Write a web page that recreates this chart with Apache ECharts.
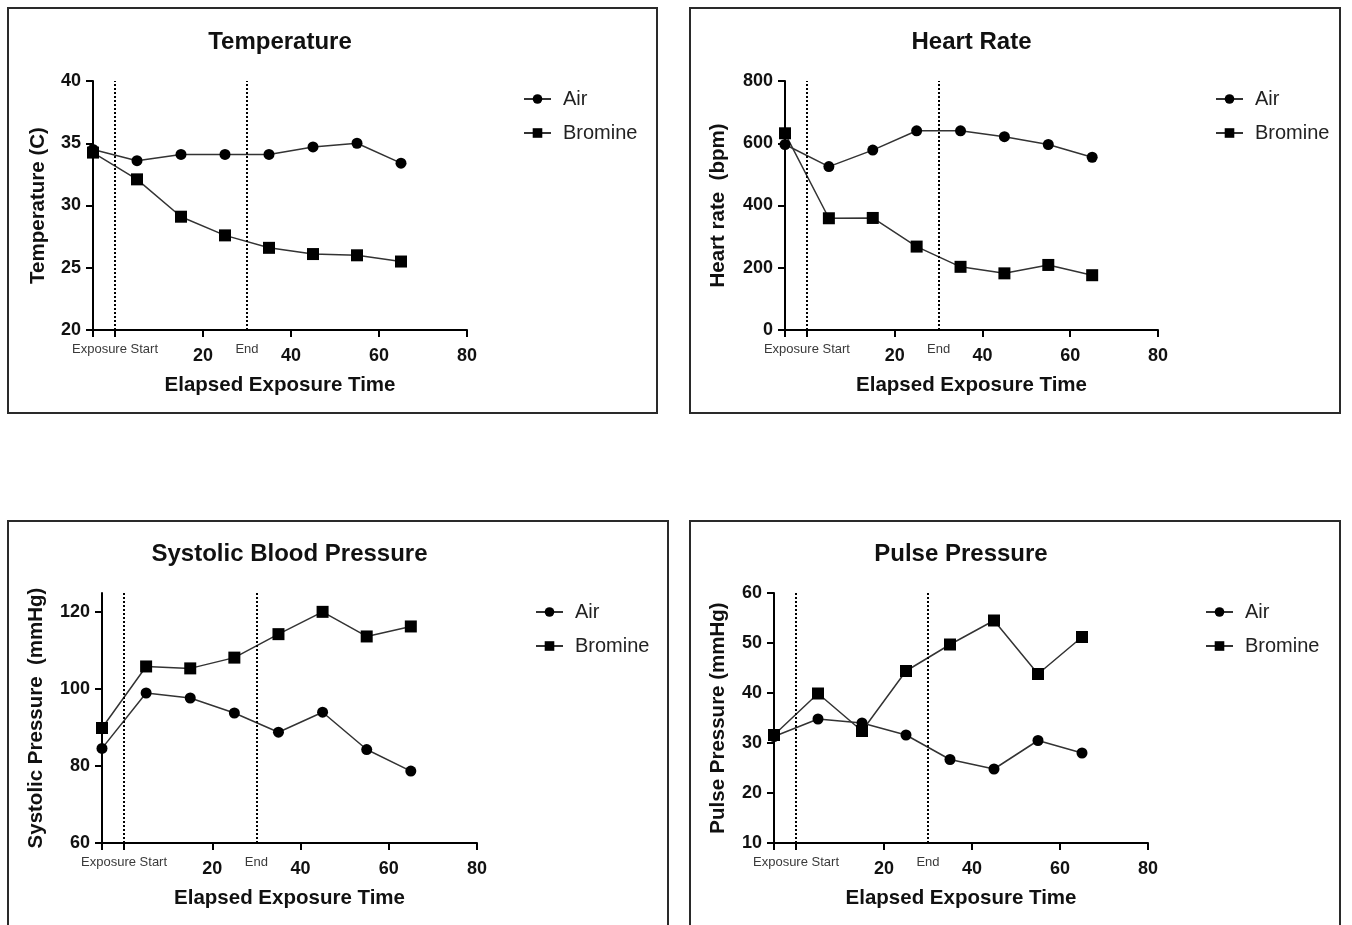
<!DOCTYPE html>
<html>
<head>
<meta charset="utf-8">
<script src="https://cdn.jsdelivr.net/npm/echarts@6/dist/echarts.min.js"></script>
<style>
html,body{margin:0;padding:0;background:#fff;}
#chart{width:1352px;height:925px;}
</style>
</head>
<body>
<div id="chart"></div>
<script>
// ---- data ----
const times = [-5, 5, 15, 25, 35, 45, 55, 65];
const seriesNames = ['Air', 'Bromine'];
const tempAir = [34.5, 33.6, 34.1, 34.1, 34.1, 34.7, 35.0, 33.4];
const tempBromine = [34.25, 32.1, 29.1, 27.6, 26.6, 26.1, 26.0, 25.5];
const hrAir = [596, 525, 578, 640, 640, 621, 596, 555];
const hrBromine = [632, 359, 360, 268, 203, 182, 209, 176];
const sysAir = [84.6, 99.0, 97.7, 93.8, 88.8, 94.0, 84.3, 78.7];
const sysBromine = [89.9, 105.9, 105.4, 108.2, 114.3, 120.1, 113.7, 116.3];
const ppAir = [31.3, 34.8, 34.0, 31.6, 26.7, 24.8, 30.5, 28.0];
const ppBromine = [31.6, 39.9, 32.4, 44.4, 49.7, 54.5, 43.8, 51.2];

const titles = ['Temperature', 'Heart Rate', 'Systolic Blood Pressure', 'Pulse Pressure'];
const yNames = ['Temperature (C)', 'Heart rate  (bpm)', 'Systolic Pressure  (mmHg)', 'Pulse Pressure (mmHg)'];
const xName = 'Elapsed Exposure Time';
const xTickValues = [-5, 0, 20, 40, 60, 80];
const xLabelValues = [0, 20, 30, 40, 60, 80];
const xLabelText = {0: 'Exposure Start', 30: 'End'};
const exposureMarks = [0, 30];
const yTicks = [
  [20, 25, 30, 35, 40],
  [0, 200, 400, 600, 800],
  [60, 80, 100, 120],
  [10, 20, 30, 40, 50, 60]
];
const yRanges = [[20, 40], [0, 800], [60, 125], [10, 60]];
const panelData = [[tempAir, tempBromine], [hrAir, hrBromine], [sysAir, sysBromine], [ppAir, ppBromine]];

// ---- layout ----
const FONT = '"Liberation Sans", Arial, sans-serif';
const grids = [
  {left: 93, top: 81, width: 374, height: 249},
  {left: 785, top: 81, width: 373, height: 249},
  {left: 102, top: 593, width: 375, height: 250},
  {left: 774, top: 593, width: 374, height: 250}
];
const nameGaps = [44, 56, 55, 45];
const legendPos = [[523, 89], [1215, 89], [535, 602], [1205, 602]];
const boxes = [
  {x: 8, y: 8, width: 649, height: 405},
  {x: 690, y: 8, width: 650, height: 405},
  {x: 8, y: 521, width: 660, height: 440},
  {x: 690, y: 521, width: 650, height: 440}
];

const option = {
  backgroundColor: '#fff',
  animation: false,
  textStyle: {fontFamily: FONT},
  graphic: boxes.map(b => ({
    type: 'rect', shape: b, silent: true, z: 0,
    style: {fill: 'none', stroke: '#2a2a2a', lineWidth: 2}
  })),
  title: titles.map((t, i) => ({
    text: t,
    left: grids[i].left + grids[i].width / 2,
    top: grids[i].top - 51,
    padding: 0,
    textAlign: 'center',
    textStyle: {fontFamily: FONT, fontSize: 24, fontWeight: 'bold', color: '#111'}
  })),
  legend: legendPos.map((p, i) => ({
    data: seriesNames,
    orient: 'vertical',
    left: p[0], top: p[1],
    padding: 0,
    itemWidth: 27, itemHeight: 12, itemGap: 14,
    selectedMode: false,
    textStyle: {fontFamily: FONT, fontSize: 20, color: '#222', padding: [0, 0, 0, 7]}
  })),
  grid: grids,
  xAxis: grids.map((g, i) => ({
    type: 'value', gridIndex: i, min: -5, max: 80,
    name: xName, nameLocation: 'middle', nameGap: 45,
    nameTextStyle: {fontFamily: FONT, fontSize: 20.5, fontWeight: 'bold', color: '#111'},
    axisLine: {show: true, onZero: false, lineStyle: {color: '#000', width: 2}},
    axisTick: {show: true, length: 7, lineStyle: {color: '#000', width: 2}, customValues: xTickValues},
    splitLine: {show: false},
    axisLabel: {
      margin: 12,
      customValues: xLabelValues,
      formatter: v => xLabelText[v] !== undefined ? '{s|' + xLabelText[v] + '}' : '{b|' + v + '}',
      rich: {
        s: {fontFamily: FONT, fontSize: 13, color: '#3a3a3a', lineHeight: 14},
        b: {fontFamily: FONT, fontSize: 18, fontWeight: 'bold', color: '#111', lineHeight: 28}
      }
    }
  })),
  yAxis: grids.map((g, i) => ({
    type: 'value', gridIndex: i, min: yRanges[i][0], max: yRanges[i][1],
    name: yNames[i], nameLocation: 'middle', nameGap: nameGaps[i],
    nameTextStyle: {fontFamily: FONT, fontSize: 20.5, fontWeight: 'bold', color: '#111'},
    axisLine: {show: true, onZero: false, lineStyle: {color: '#000', width: 2}},
    axisTick: {show: true, length: 7, lineStyle: {color: '#000', width: 2}, customValues: yTicks[i]},
    splitLine: {show: false},
    axisLabel: {
      margin: 12, customValues: yTicks[i],
      fontFamily: FONT, fontSize: 18, fontWeight: 'bold', color: '#111'
    }
  })),
  series: []
};

panelData.forEach((pair, i) => {
  pair.forEach((vals, k) => {
    const s = {
      type: 'line',
      name: seriesNames[k],
      xAxisIndex: i, yAxisIndex: i,
      data: times.map((t, j) => [t, vals[j]]),
      symbol: k === 0 ? 'circle' : 'rect',
      symbolSize: k === 0 ? 11 : 12,
      showAllSymbol: true,
      color: '#000',
      itemStyle: {color: '#000'},
      lineStyle: {color: '#333', width: 1.5},
      emphasis: {disabled: true},
      z: 3
    };
    if (k === 0) {
      s.markLine = {
        silent: true,
        symbol: ['none', 'none'],
        label: {show: false},
        animation: false,
        lineStyle: {type: 'dotted', color: '#000', width: 2},
        data: exposureMarks.map(x => ({xAxis: x}))
      };
    }
    option.series.push(s);
  });
});

const chart = echarts.init(document.getElementById('chart'), null, {renderer: 'canvas'});
chart.setOption(option);
</script>
</body>
</html>
